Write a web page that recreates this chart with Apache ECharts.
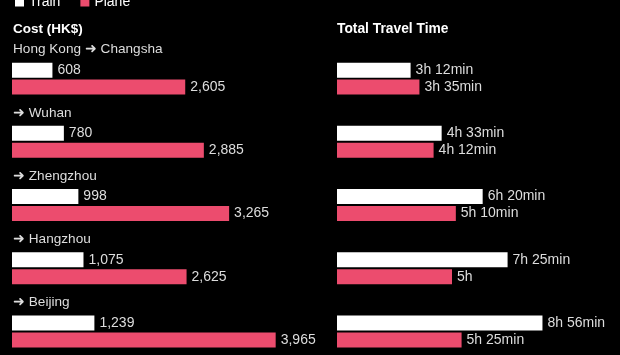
<!DOCTYPE html>
<html>
<head>
<meta charset="utf-8">
<script src="https://cdn.jsdelivr.net/npm/echarts@6/dist/echarts.min.js"></script>
<style>
html,body{margin:0;padding:0;background:#000;}
#chart{width:620px;height:355px;}
</style>
</head>
<body>
<div id="chart"></div>
<script>
const routes = ['Hong Kong \u279C Changsha', '\u279C Wuhan', '\u279C Zhengzhou', '\u279C Hangzhou', '\u279C Beijing'];
const trainCost = [608, 780, 998, 1075, 1239];
const planeCost = [2605, 2885, 3265, 2625, 3965];
const trainMinutes = [192, 273, 380, 445, 536];
const planeMinutes = [215, 252, 310, 300, 325];

const FONT = '"Liberation Sans", Arial, sans-serif';
const PINK = '#ec4c6e';
const WHITE = '#ffffff';

function fmtCost(v) { return Number(v).toLocaleString('en-US'); }
function fmtTime(m) {
  const h = Math.floor(m / 60), r = m % 60;
  return r ? (h + 'h ' + r + 'min') : (h + 'h');
}

const chart = echarts.init(document.getElementById('chart'), null, {renderer: 'canvas'});
const labelStyle = {show: true, position: 'right', distance: 5, color: '#dddddd', fontSize: 14, fontFamily: FONT};

chart.setOption({
  backgroundColor: '#000000',
  animation: false,
  textStyle: {fontFamily: FONT},
  legend: {
    top: -10, left: 10, icon: 'rect', itemWidth: 9, itemHeight: 9, itemGap: 20,
    textStyle: {color: '#ffffff', fontSize: 14, fontFamily: FONT},
    data: ['Train', 'Plane']
  },
  title: [
    {text: 'Cost (HK$)', left: 8, top: 17, textStyle: {color: '#ffffff', fontSize: 13.5, fontWeight: 'bold', fontFamily: FONT}},
    {text: 'Total Travel Time', left: 332, top: 17, textStyle: {color: '#ffffff', fontSize: 13.8, fontWeight: 'bold', fontFamily: FONT}}
  ],
  grid: [
    {left: 12, top: 47, width: 266, height: 316, outerBoundsMode: 'none', containLabel: false},
    {left: 337, top: 47, width: 230, height: 316, outerBoundsMode: 'none', containLabel: false}
  ],
  xAxis: [
    {gridIndex: 0, type: 'value', min: 0, max: 4000, show: false},
    {gridIndex: 1, type: 'value', min: 0, max: 600, show: false}
  ],
  yAxis: [
    {gridIndex: 0, type: 'category', data: routes, inverse: true,
     axisLine: {show: false}, axisTick: {show: false}, splitLine: {show: false},
     axisLabel: {inside: true, margin: 1, align: 'left', verticalAlign: 'bottom', padding: [0, 0, 22, 0],
                 color: '#dddddd', fontSize: 13.6, fontFamily: FONT}},
    {gridIndex: 1, type: 'category', data: routes, inverse: true, show: false}
  ],
  series: [
    {name: 'Train', type: 'bar', xAxisIndex: 0, yAxisIndex: 0, data: trainCost, barWidth: 15, barGap: '13%',
     itemStyle: {color: WHITE}, label: Object.assign({}, labelStyle, {formatter: p => fmtCost(p.value)})},
    {name: 'Plane', type: 'bar', xAxisIndex: 0, yAxisIndex: 0, data: planeCost, barWidth: 15, barGap: '13%',
     itemStyle: {color: PINK}, label: Object.assign({}, labelStyle, {formatter: p => fmtCost(p.value)})},
    {name: 'Train', type: 'bar', xAxisIndex: 1, yAxisIndex: 1, data: trainMinutes, barWidth: 15, barGap: '13%',
     itemStyle: {color: WHITE}, label: Object.assign({}, labelStyle, {formatter: p => fmtTime(p.value)})},
    {name: 'Plane', type: 'bar', xAxisIndex: 1, yAxisIndex: 1, data: planeMinutes, barWidth: 15, barGap: '13%',
     itemStyle: {color: PINK}, label: Object.assign({}, labelStyle, {formatter: p => fmtTime(p.value)})}
  ]
});
</script>
</body>
</html>
